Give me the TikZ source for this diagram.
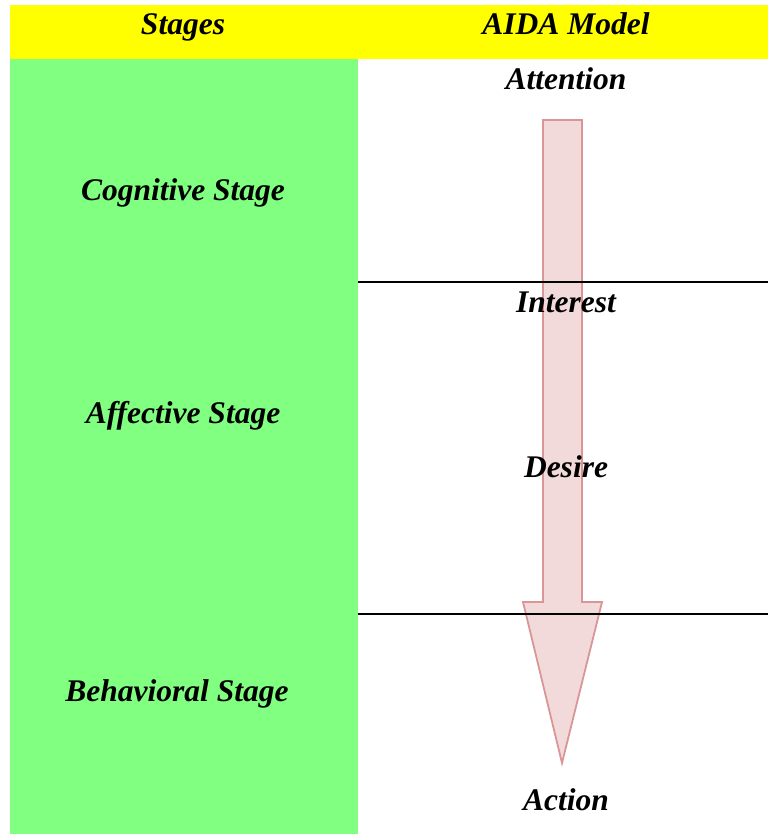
\documentclass[tikz,border=0pt]{standalone}
\usepackage{fontspec}
\setmainfont{Liberation Serif}
\usepackage{tikz}
\usetikzlibrary{positioning}
\definecolor{hdryellow}{RGB}{255,255,0}
\definecolor{stagegreen}{RGB}{128,255,128}
\definecolor{arrowfill}{RGB}{242,218,218}
\definecolor{arrowedge}{RGB}{218,150,150}

\tikzset{
  label/.style={font=\fontsize{31.5}{36}\selectfont\bfseries\itshape, inner sep=0pt, anchor=base},
}

\begin{document}
\begin{tikzpicture}[x=1pt, y=-1pt]
  \useasboundingbox[fill=white] (0,0) rectangle (768,834);

  % Header and stage column
  \fill[hdryellow] (10,5) rectangle (768,59);
  \fill[stagegreen] (10,59) rectangle (358,834);

  % AIDA arrow
  \draw[line width=1.8pt, arrowedge, fill=arrowfill]
    (543,120) -- (582,120) -- (582,602) -- (602,602) -- (562,763)
    -- (523,602) -- (543,602) -- cycle;

  % Separators
  \coordinate (sepA) at (358,282);
  \coordinate (sepB) at (358,614);
  \draw[line width=1.4pt] (sepA) -- ++(410,0);
  \draw[line width=1.4pt] (sepB) -- ++(410,0);

  % Header texts
  \node[label] (stages) at (183,35) {Stages};
  \node[label] (aida) at (566,35) {AIDA Model};

  % Stage texts
  \node[label] (cog) at (183,201) {Cognitive Stage};
  \node[label] (aff) at (183,423) {Affective Stage};
  \node[label] (beh) at (177,701) {Behavioral Stage};

  % AIDA texts
  \node[label] (att) at (566,90) {Attention};
  \node[label] (int) at (566,312) {Interest};
  \node[label] (des) at (566,477) {Desire};
  \node[label] (act) at (566,810) {Action};
\end{tikzpicture}
\end{document}
